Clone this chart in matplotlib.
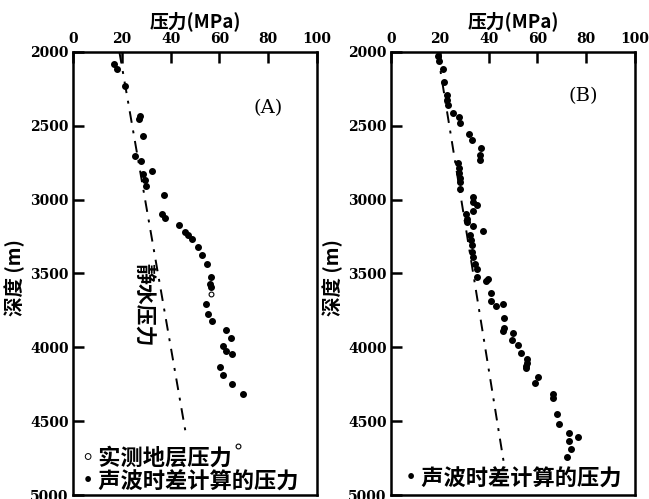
import numpy as np
import matplotlib
matplotlib.use('Agg')
import matplotlib.pyplot as plt

plt.rcParams['font.family'] = ['DejaVu Serif', 'Noto Sans CJK SC']
plt.rcParams['font.weight'] = 'bold'
cjk = ['Noto Sans CJK SC', 'DejaVu Sans']

# panel A: sonic-derived pressure (MPa) vs depth (m)
a_press = [16.8, 18.2, 21.3, 27.0, 27.5, 28.6, 25.4, 27.7, 32.5, 28.8, 29.5, 29.8,
           37.3, 36.4, 37.7, 43.6, 45.9, 47.3, 48.6, 51.1, 52.7, 54.8, 56.4, 56.1,
           56.4, 54.4, 55.5, 56.8, 62.6, 64.8, 61.3, 62.7, 65.0, 60.2, 61.3, 65.3, 69.8]
a_depth = [2081, 2118, 2229, 2455, 2435, 2568, 2704, 2740, 2806, 2830, 2869, 2908,
           2971, 3095, 3122, 3174, 3220, 3242, 3265, 3322, 3378, 3439, 3525, 3570,
           3593, 3706, 3774, 3819, 3880, 3939, 3989, 4028, 4045, 4132, 4186, 4249, 4317]
# panel A: measured formation pressure
a_meas_press = [56.6, 67.5]
a_meas_depth = [3638, 4668]
# hydrostatic line end points
a_hydro_press = [19.0, 46.4]
a_hydro_depth = [2000, 4600]

# panel B
b_press = [19.2, 19.6, 21.2, 21.7, 22.8, 23.1, 23.5, 25.5, 28.0, 28.3, 32.1, 33.2,
           36.8, 36.5, 36.5, 27.5, 27.7, 27.9, 28.1, 28.3, 28.3, 33.6, 33.5, 35.4,
           33.6, 30.6, 31.0, 31.0, 33.5, 37.8, 32.4, 32.7, 33.1, 33.1, 33.7, 34.4,
           35.1, 35.1, 39.1, 39.7, 40.9, 40.9, 43.0, 45.8, 46.4, 46.4, 45.8, 49.9,
           49.5, 52.2, 53.1, 55.9, 55.6, 55.3, 55.2, 60.4, 59.0, 66.5, 66.5, 67.9,
           69.0, 73.1, 76.8, 73.1, 73.7, 72.1]
b_depth = [2030, 2060, 2118, 2207, 2292, 2326, 2360, 2412, 2443, 2484, 2557, 2597,
           2654, 2699, 2733, 2753, 2787, 2821, 2855, 2880, 2925, 2982, 3016, 3039,
           3077, 3095, 3129, 3152, 3181, 3213, 3242, 3276, 3310, 3356, 3390, 3435,
           3468, 3525, 3552, 3536, 3634, 3688, 3718, 3706, 3801, 3869, 3892, 3905,
           3950, 3982, 4041, 4080, 4103, 4125, 4141, 4200, 4242, 4313, 4344, 4453,
           4521, 4577, 4607, 4634, 4690, 4742]
b_hydro_press = [19.0, 46.4]
b_hydro_depth = [2000, 4800]

x_ticks = [0, 20, 40, 60, 80, 100]
y_ticks = [2000, 2500, 3000, 3500, 4000, 4500, 5000]

fig = plt.figure(figsize=(6.49, 4.99), dpi=100)
ax_a = fig.add_axes([0.1125, 0.008, 0.376, 0.888])
ax_b = fig.add_axes([0.6025, 0.008, 0.376, 0.888])


def style_axis(ax, label, lx, ly):
    ax.set_xlim(0, 100)
    ax.set_ylim(5000, 2000)
    ax.set_xticks(x_ticks)
    ax.set_yticks(y_ticks)
    ax.xaxis.tick_top()
    ax.xaxis.set_label_position('top')
    ax.tick_params(direction='in', length=8, width=1.8, labelsize=10, pad=3)
    ax.tick_params(axis='x', pad=4)
    for s in ax.spines.values():
        s.set_linewidth(1.8)
    ax.set_xlabel('压力(MPa)', family=cjk, fontsize=13.5, fontweight='bold', labelpad=4)
    ax.set_ylabel('深度 (m)', family=cjk, fontsize=14, fontweight='bold')
    ax.yaxis.set_label_coords(-0.195, 0.49)
    ax.text(lx, ly, label, transform=ax.transAxes, fontsize=14,
            fontweight='normal', ha='center', va='center')


ax_a.plot(a_hydro_press, a_hydro_depth, color='black', lw=1.4,
          linestyle=(0, (6, 4, 1.5, 4)))
ax_a.scatter(a_press, a_depth, s=16, color='black', zorder=3)
ax_a.scatter(a_meas_press, a_meas_depth, s=12, facecolor='white',
             edgecolor='black', linewidth=0.8, zorder=4)
style_axis(ax_a, '(A)', 0.80, 0.873)
ax_a.text(28.7, 3710, '静水压力', family=cjk, fontsize=15, fontweight='bold',
          rotation=-90, ha='center', va='center')
ax_a.text(0.015, 0.082, '◦实测地层压力', transform=ax_a.transAxes, family=cjk,
          fontsize=16, fontweight='bold', va='center')
ax_a.text(0.015, 0.030, '•声波时差计算的压力', transform=ax_a.transAxes, family=cjk,
          fontsize=16, fontweight='bold', va='center')

ax_b.plot(b_hydro_press, b_hydro_depth, color='black', lw=1.4,
          linestyle=(0, (6, 4, 1.5, 4)))
ax_b.scatter(b_press, b_depth, s=16, color='black', zorder=3)
style_axis(ax_b, '(B)', 0.787, 0.90)
ax_b.text(0.035, 0.036, '•声波时差计算的压力', transform=ax_b.transAxes, family=cjk,
          fontsize=16, fontweight='bold', va='center')

fig.savefig('out.png', dpi=100)
